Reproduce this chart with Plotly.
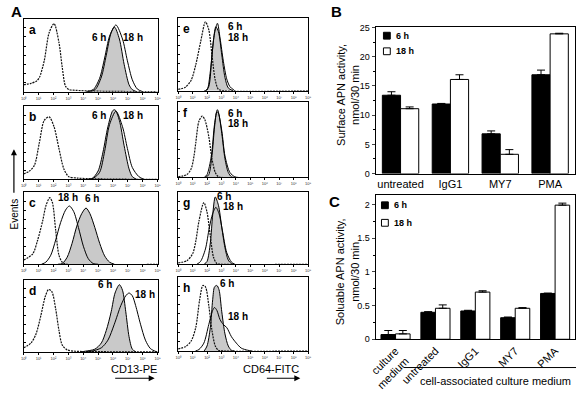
import plotly.graph_objects as go

W, H = 580, 393
FONT = "Liberation Sans, Arial, sans-serif"

# ---------------- Panel A: flow cytometry histograms (x in decade units 0-9, y normalized events)
a_iso_x = [0, 0.5, 0.85, 1.05, 1.38, 1.71, 2.04, 2.37, 2.59, 2.81, 3.05, 3.5, 4.5, 9]
a_iso_y = [0.1, 0.12, 0.15, 0.2, 0.44, 0.84, 0.97, 0.7, 0.35, 0.08, 0.03, 0.02, 0.01, 0]
a_6h_x = [4.2, 4.67, 5.1, 5.44, 5.77, 6.1, 6.43, 6.75, 7.08, 7.3, 7.6]
a_6h_y = [0, 0.03, 0.19, 0.48, 0.79, 0.92, 0.75, 0.39, 0.1, 0.03, 0]
a_18h_x = [4.3, 4.8, 5.22, 5.55, 5.88, 6.2, 6.64, 6.97, 7.3, 7.63, 8.0]
a_18h_y = [0, 0.03, 0.21, 0.52, 0.84, 0.95, 0.75, 0.44, 0.17, 0.04, 0]

b_iso_x = [0, 0.39, 0.72, 1.05, 1.38, 1.71, 2.04, 2.37, 2.7, 3.03, 3.6, 4.5, 9]
b_iso_y = [0.08, 0.12, 0.2, 0.52, 0.84, 0.89, 0.75, 0.44, 0.15, 0.04, 0.02, 0.01, 0]
b_6h_x = [4.2, 4.58, 5.0, 5.33, 5.66, 5.99, 6.14, 6.43, 6.75, 7.08, 7.3, 7.6]
b_6h_y = [0, 0.01, 0.12, 0.39, 0.75, 0.98, 0.99, 0.84, 0.48, 0.15, 0.04, 0]
b_18h_x = [4.3, 4.7, 5.1, 5.44, 5.77, 6.2, 6.64, 6.97, 7.3, 7.74, 8.1]
b_18h_y = [0, 0.02, 0.1, 0.4, 0.78, 0.97, 0.75, 0.44, 0.17, 0.04, 0]

c_iso_x = [0, 0.61, 0.94, 1.27, 1.49, 1.75, 1.93, 2.15, 2.37, 2.59, 2.9, 9]
c_iso_y = [0.06, 0.15, 0.35, 0.62, 0.84, 0.96, 0.89, 0.49, 0.13, 0.03, 0, 0]
c_6h_x = [2.3, 2.59, 2.92, 3.25, 3.57, 3.9, 4.19, 4.45, 4.78, 5.11, 5.44, 5.77, 6.1]
c_6h_y = [0, 0.01, 0.1, 0.3, 0.55, 0.73, 0.81, 0.73, 0.53, 0.3, 0.12, 0.03, 0]
c_18h_x = [1.2, 1.49, 1.82, 2.15, 2.48, 2.81, 3.07, 3.36, 3.68, 4.01, 4.34, 4.67, 5.0]
c_18h_y = [0, 0.03, 0.13, 0.35, 0.6, 0.78, 0.84, 0.76, 0.53, 0.26, 0.08, 0.01, 0]

d_iso_x = [0, 0.5, 0.83, 1.16, 1.45, 1.67, 1.89, 2.15, 2.37, 2.59, 2.92, 3.47, 4.5, 9]
d_iso_y = [0.06, 0.13, 0.26, 0.53, 0.8, 0.9, 0.87, 0.62, 0.31, 0.1, 0.03, 0.01, 0.005, 0]
d_6h_x = [3.8, 4.12, 4.78, 5.22, 5.55, 5.88, 6.14, 6.43, 6.64, 6.86, 7.08, 7.3, 7.55]
d_6h_y = [0, 0.01, 0.04, 0.13, 0.31, 0.58, 0.85, 0.97, 0.89, 0.58, 0.22, 0.04, 0]
d_18h_x = [4.2, 4.56, 5.22, 5.66, 6.09, 6.53, 6.86, 7.08, 7.3, 7.52, 7.85, 8.18, 8.51, 8.84, 9.0]
d_18h_y = [0, 0.01, 0.06, 0.17, 0.4, 0.67, 0.81, 0.85, 0.81, 0.67, 0.4, 0.17, 0.05, 0.01, 0]

e_iso_x = [0, 0.5, 0.9, 1.22, 1.55, 1.89, 2.12, 2.34, 2.57, 2.79, 3.2, 9]
e_iso_y = [0.02, 0.05, 0.15, 0.37, 0.69, 0.98, 0.87, 0.51, 0.15, 0.02, 0, 0]
e_6h_x = [1.8, 2.0, 2.23, 2.45, 2.61, 2.79, 3.02, 3.24, 3.47, 3.8]
e_6h_y = [0, 0.01, 0.28, 0.73, 0.91, 0.84, 0.51, 0.19, 0.04, 0]
e_18h_x = [1.9, 2.12, 2.34, 2.52, 2.72, 2.9, 3.13, 3.36, 3.58, 3.92]
e_18h_y = [0, 0.06, 0.5, 0.82, 0.96, 0.75, 0.42, 0.17, 0.06, 0]

f_iso_x = [0, 0.6, 0.9, 1.1, 1.22, 1.44, 1.67, 1.85, 2.12, 2.34, 2.57, 2.79, 3.1, 9]
f_iso_y = [0.01, 0.04, 0.12, 0.3, 0.48, 0.78, 0.85, 0.8, 0.57, 0.26, 0.07, 0.01, 0, 0]
f_6h_x = [1.9, 2.12, 2.34, 2.52, 2.68, 2.79, 3.02, 3.24, 3.47, 3.69, 3.9]
f_6h_y = [0, 0.04, 0.3, 0.7, 0.91, 0.89, 0.61, 0.26, 0.07, 0.01, 0]
f_18h_x = [1.8, 2.0, 2.3, 2.52, 2.72, 3.02, 3.24, 3.58, 3.92, 4.2]
f_18h_y = [0, 0.04, 0.3, 0.74, 0.94, 0.65, 0.3, 0.07, 0.01, 0]

g_iso_x = [0, 0.6, 1.0, 1.22, 1.44, 1.78, 2.0, 2.23, 2.45, 2.68, 3.0, 9]
g_iso_y = [0.02, 0.05, 0.15, 0.33, 0.62, 0.89, 0.75, 0.4, 0.1, 0.01, 0, 0]
g_6h_x = [1.8, 2.0, 2.23, 2.39, 2.57, 2.79, 3.02, 3.24, 3.47, 3.69, 3.9]
g_6h_y = [0, 0.04, 0.31, 0.71, 0.97, 0.85, 0.53, 0.24, 0.06, 0.01, 0]
g_18h_x = [1.3, 1.55, 1.89, 2.16, 2.39, 2.61, 2.83, 3.06, 3.36, 3.69, 3.92]
g_18h_y = [0, 0.04, 0.22, 0.53, 0.73, 0.82, 0.73, 0.49, 0.17, 0.03, 0]

h_iso_x = [0, 0.5, 0.9, 1.22, 1.49, 1.71, 1.89, 2.12, 2.34, 2.57, 2.79, 3.1, 9]
h_iso_y = [0.03, 0.06, 0.14, 0.33, 0.72, 0.92, 0.9, 0.64, 0.29, 0.07, 0.01, 0, 0]
h_6h_x = [1.8, 2.0, 2.23, 2.39, 2.52, 2.68, 2.83, 3.02, 3.24, 3.47, 3.69, 3.9]
h_6h_y = [0, 0.07, 0.33, 0.72, 0.9, 0.92, 0.86, 0.55, 0.24, 0.07, 0.01, 0]
h_18h_x = [1.2, 1.44, 1.78, 2.12, 2.39, 2.52, 2.68, 2.9, 3.13, 3.36, 3.69, 4.03, 4.37, 4.82, 5.1]
h_18h_y = [0, 0.02, 0.11, 0.37, 0.57, 0.61, 0.57, 0.44, 0.37, 0.33, 0.2, 0.11, 0.04, 0.01, 0]

decade_ticks = [0, 1, 2, 3, 4, 5, 6, 7, 8, 9]
decade_labels = ["10⁰", "10¹", "10²", "10³", "10⁴", "10⁵", "10⁶", "10⁷", "10⁸", "10⁹"]

# ---------------- Panel B: surface APN activity
surf_categories = ["untreated", "IgG1", "MY7", "PMA"]
surf_6h = [13.4, 11.9, 6.8, 16.9]
surf_6h_err = [0.6, 0.1, 0.5, 0.8]
surf_18h = [11.1, 16.1, 3.3, 23.9]
surf_18h_err = [0.3, 0.8, 0.8, 0.1]

# ---------------- Panel C: soluble APN activity
sol_categories = ["culture<br>medium", "untreated", "IgG1", "MY7", "PMA"]
sol_6h = [0.07, 0.40, 0.42, 0.32, 0.68]
sol_6h_err = [0.06, 0.01, 0.01, 0.01, 0.005]
sol_18h = [0.08, 0.46, 0.70, 0.46, 1.99]
sol_18h_err = [0.05, 0.05, 0.02, 0.01, 0.03]


def px(x):
    return x / W


def py(y):
    return 1 - y / H


hist_panels = [
    # letter, x0, x1, y0(top), y1(bottom), iso, 6h, 18h, label positions
    ("a", 14, 151, 14, 89, (a_iso_x, a_iso_y), (a_6h_x, a_6h_y), (a_18h_x, a_18h_y),
     [("6 h", 91, 33), ("18 h", 126, 33)]),
    ("b", 14, 151, 104, 179, (b_iso_x, b_iso_y), (b_6h_x, b_6h_y), (b_18h_x, b_18h_y),
     [("6 h", 91, 113), ("18 h", 126, 113)]),
    ("c", 14, 151, 192, 266, (c_iso_x, c_iso_y), (c_6h_x, c_6h_y), (c_18h_x, c_18h_y),
     [("18 h", 59, 198), ("6 h", 84, 199)]),
    ("d", 14, 151, 282, 356, (d_iso_x, d_iso_y), (d_6h_x, d_6h_y), (d_18h_x, d_18h_y),
     [("6 h", 97, 287), ("18 h", 138, 297)]),
    ("e", 172, 305, 13, 88, (e_iso_x, e_iso_y), (e_6h_x, e_6h_y), (e_18h_x, e_18h_y),
     [("6 h", 230, 22), ("18 h", 233, 33)]),
    ("f", 172, 305, 100, 177, (f_iso_x, f_iso_y), (f_6h_x, f_6h_y), (f_18h_x, f_18h_y),
     [("6 h", 230, 111), ("18 h", 233, 122)]),
    ("g", 172, 305, 192, 266, (g_iso_x, g_iso_y), (g_6h_x, g_6h_y), (g_18h_x, g_18h_y),
     [("6 h", 219, 196), ("18 h", 228, 207)]),
    ("h", 172, 305, 279, 355, (h_iso_x, h_iso_y), (h_6h_x, h_6h_y), (h_18h_x, h_18h_y),
     [("6 h", 222, 286), ("18 h", 233, 320)]),
]

fig = go.Figure()
layout = dict(
    width=W, height=H, margin=dict(l=0, r=0, t=0, b=0),
    paper_bgcolor="white", plot_bgcolor="white",
    font=dict(family=FONT, color="black"), showlegend=False,
)
annotations = []
shapes = []

for i, (letter, x0, x1, y0, y1, iso, h6, h18, labels) in enumerate(hist_panels, start=1):
    xa, ya = f"x{i}", f"y{i}"
    fig.add_trace(go.Scatter(x=h6[0], y=h6[1], xaxis=xa, yaxis=ya, mode="lines",
                             line=dict(color="black", width=1, shape="spline", smoothing=0.8),
                             fill="tozeroy", fillcolor="#c9c9c9", hoverinfo="skip"))
    fig.add_trace(go.Scatter(x=iso[0], y=iso[1], xaxis=xa, yaxis=ya, mode="lines",
                             line=dict(color="#111", width=1.2, dash="2px,1px", shape="spline", smoothing=0.8),
                             hoverinfo="skip"))
    fig.add_trace(go.Scatter(x=h18[0], y=h18[1], xaxis=xa, yaxis=ya, mode="lines",
                             line=dict(color="black", width=1, shape="spline", smoothing=0.8),
                             hoverinfo="skip"))
    key = "" if i == 1 else str(i)
    layout["xaxis" + key] = dict(
        domain=[px(x0), px(x1)], anchor=ya, range=[0, 9], tickvals=decade_ticks,
        ticktext=decade_labels, tickfont=dict(size=4, color="#333"), ticks="outside",
        ticklen=2, tickcolor="black", showline=True, mirror=True, linecolor="black",
        linewidth=1, showgrid=False, zeroline=False, fixedrange=True)
    layout["yaxis" + key] = dict(
        domain=[py(y1), py(y0)], anchor=xa, range=[0, 1.04], showticklabels=False,
        ticks="inside", ticklen=2, dtick=0.13, tickcolor="black", showline=True,
        mirror=True, linecolor="black", linewidth=1, showgrid=False, zeroline=False,
        fixedrange=True)
    annotations.append(dict(xref="paper", yref="paper", x=px(x0 + 3), y=py(y0 + 2),
                            xanchor="left", yanchor="top", showarrow=False,
                            text=f"<b>{letter}</b>", font=dict(size=12)))
    for txt, lx, ly in labels:
        annotations.append(dict(xref="paper", yref="paper", x=px(lx), y=py(ly),
                                xanchor="center", yanchor="middle", showarrow=False,
                                text=f"<b>{txt}</b>", font=dict(size=10)))

# ---------------- bar chart B
fig.add_trace(go.Bar(x=surf_categories, y=surf_6h, xaxis="x9", yaxis="y9", name="6 h",
                     marker=dict(color="black", line=dict(color="black", width=1)),
                     error_y=dict(type="data", array=surf_6h_err, arrayminus=[0] * 4,
                                  symmetric=False, color="black", thickness=1, width=4)))
fig.add_trace(go.Bar(x=surf_categories, y=surf_18h, xaxis="x9", yaxis="y9", name="18 h",
                     marker=dict(color="white", line=dict(color="black", width=1)),
                     error_y=dict(type="data", array=surf_18h_err, arrayminus=[0] * 4,
                                  symmetric=False, color="black", thickness=1, width=4)))
layout["xaxis9"] = dict(domain=[px(374), px(578)], anchor="y9", showline=True, mirror=True,
                        linecolor="black", linewidth=1, ticks="", tickfont=dict(size=11),
                        fixedrange=True)
layout["yaxis9"] = dict(domain=[py(173), py(23)], anchor="x9", range=[0, 25], dtick=5,
                        ticks="outside", ticklen=3, tickfont=dict(size=9), showline=True,
                        mirror=True, linecolor="black", linewidth=1, showgrid=False,
                        zeroline=False, fixedrange=True,
                        minor=dict(dtick=2.5, ticks="outside", ticklen=2, tickcolor="black"))

# ---------------- bar chart C
fig.add_trace(go.Bar(x=sol_categories, y=sol_6h, xaxis="x10", yaxis="y10", name="6 h",
                     marker=dict(color="black", line=dict(color="black", width=1)),
                     error_y=dict(type="data", array=sol_6h_err, arrayminus=[0] * 5,
                                  symmetric=False, color="black", thickness=1, width=4)))
fig.add_trace(go.Bar(x=sol_categories, y=sol_18h, xaxis="x10", yaxis="y10", name="18 h",
                     marker=dict(color="white", line=dict(color="black", width=1)),
                     error_y=dict(type="data", array=sol_18h_err, arrayminus=[0] * 5,
                                  symmetric=False, color="black", thickness=1, width=4)))
layout["xaxis10"] = dict(domain=[px(374), px(578)], anchor="y10", showline=True, mirror=True,
                         linecolor="black", linewidth=1, ticks="", tickangle=-45,
                         tickfont=dict(size=11), fixedrange=True)
layout["yaxis10"] = dict(domain=[py(343), py(195)], anchor="x10", range=[0, 2.14],
                         tickvals=[0, 0.5, 1, 1.5, 2], ticktext=["0", "0.5", "1", "1.5", "2"],
                         ticks="outside", ticklen=3, tickfont=dict(size=9), showline=True,
                         mirror=True, linecolor="black", linewidth=1, showgrid=False,
                         zeroline=False, fixedrange=True,
                         minor=dict(dtick=0.25, ticks="outside", ticklen=2, tickcolor="black"))

layout["barmode"] = "group"
layout["bargap"] = 0.27
layout["bargroupgap"] = 0

# legends (B and C)
for (sx, sy1, sy2) in [(382, 28, 44), (380, 202, 220)]:
    shapes.append(dict(type="rect", xref="paper", yref="paper", x0=px(sx), x1=px(sx + 7),
                       y0=py(sy1 + 7), y1=py(sy1), fillcolor="black", line=dict(color="black", width=1)))
    shapes.append(dict(type="rect", xref="paper", yref="paper", x0=px(sx), x1=px(sx + 7),
                       y0=py(sy2 + 7), y1=py(sy2), fillcolor="white", line=dict(color="black", width=1)))
    annotations.append(dict(xref="paper", yref="paper", x=px(sx + 11), y=py(sy1 + 3.5),
                            xanchor="left", yanchor="middle", showarrow=False,
                            text="<b>6 h</b>", font=dict(size=9)))
    annotations.append(dict(xref="paper", yref="paper", x=px(sx + 11), y=py(sy2 + 3.5),
                            xanchor="left", yanchor="middle", showarrow=False,
                            text="<b>18 h</b>", font=dict(size=9)))

# y-axis titles for B and C
annotations.append(dict(xref="paper", yref="paper", x=px(345), y=py(92), textangle=-90,
                        xanchor="center", yanchor="middle", showarrow=False,
                        text="Surface APN activity,<br>nmol/30 min", font=dict(size=11)))
annotations.append(dict(xref="paper", yref="paper", x=px(345), y=py(274), textangle=-90,
                        xanchor="center", yanchor="middle", showarrow=False,
                        text="Soluable APN activity,<br>nmol/30 min", font=dict(size=11)))

# group line and caption under C
shapes.append(dict(type="line", xref="paper", yref="paper", x0=px(403), x1=px(579),
                   y0=py(372), y1=py(372), line=dict(color="black", width=1)))
annotations.append(dict(xref="paper", yref="paper", x=px(497), y=py(386),
                        xanchor="center", yanchor="middle", showarrow=False,
                        text="cell-associated culture medium", font=dict(size=11)))

# panel letters
for txt, lx, ly in [("A", 7, 7), ("B", 334, 7), ("C", 332, 202)]:
    annotations.append(dict(xref="paper", yref="paper", x=px(lx), y=py(ly),
                            xanchor="center", yanchor="middle", showarrow=False,
                            text=f"<b>{txt}</b>", font=dict(size=15)))

# Events label and arrow
annotations.append(dict(xref="paper", yref="paper", x=px(5), y=py(214), textangle=-90,
                        xanchor="center", yanchor="middle", showarrow=False,
                        text="Events", font=dict(size=10)))
annotations.append(dict(xref="paper", yref="paper", x=px(4), y=py(148), ax=0, ay=45,
                        text="", showarrow=True, arrowhead=2, arrowsize=1, arrowwidth=1.2,
                        arrowcolor="black"))

# CD13-PE / CD64-FITC labels and arrows
annotations.append(dict(xref="paper", yref="paper", x=px(127), y=py(374),
                        xanchor="center", yanchor="middle", showarrow=False,
                        text="CD13-PE", font=dict(size=11)))
annotations.append(dict(xref="paper", yref="paper", x=px(148), y=py(383), ax=-41, ay=0,
                        text="", showarrow=True, arrowhead=2, arrowsize=1, arrowwidth=1.2,
                        arrowcolor="black"))
annotations.append(dict(xref="paper", yref="paper", x=px(267), y=py(374),
                        xanchor="center", yanchor="middle", showarrow=False,
                        text="CD64-FITC", font=dict(size=11)))
annotations.append(dict(xref="paper", yref="paper", x=px(297), y=py(383), ax=-35, ay=0,
                        text="", showarrow=True, arrowhead=2, arrowsize=1, arrowwidth=1.2,
                        arrowcolor="black"))

layout["annotations"] = annotations
layout["shapes"] = shapes
fig.update_layout(**layout)
fig.write_html("out.html", config={"displayModeBar": False},
               post_script="document.body.style.margin='0';document.body.style.overflow='hidden';")
